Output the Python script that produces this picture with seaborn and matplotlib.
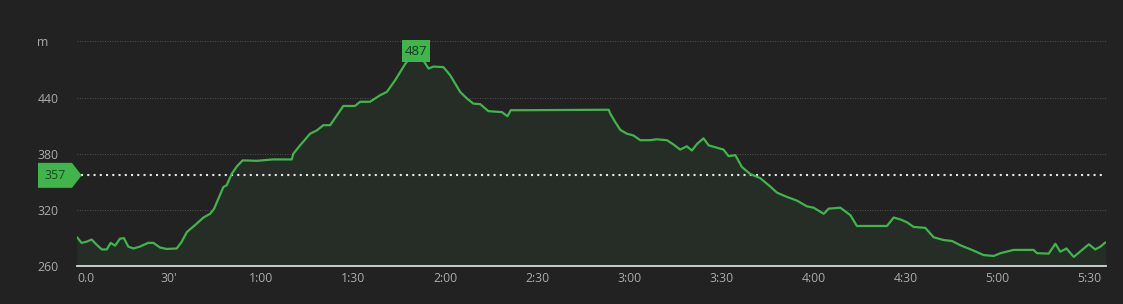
import numpy as np
import pandas as pd
import matplotlib
matplotlib.use("Agg")
import matplotlib.pyplot as plt
import matplotlib.transforms as mtransforms
from matplotlib.patches import Polygon, Rectangle
import seaborn as sns

# ---- data (minutes, metres) ----
minutes = [0, 1.5, 2.9, 4.8, 6.4, 8.1, 9.7, 11.0, 12.4, 14.0,
           15.3, 16.7, 18.4, 20.5, 23.2, 24.9, 27.1, 29.2, 32.5, 34.1,
           35.8, 38.5, 41.2, 43.4, 44.7, 46.6, 47.7, 48.8, 50.4, 52.1,
           54.0, 58.6, 64.0, 70.0, 70.5, 72.7, 76.0, 78.2, 80.3, 82.5,
           84.7, 86.8, 90.6, 92.3, 95.5, 98.8, 101.0, 103.7, 107.0, 109.2,
           110.5, 112.2, 113.5, 114.6, 116.2, 119.4, 121.6, 124.9, 127.1, 129.2,
           131.4, 134.1, 138.5, 140.3, 141.4, 145.5, 173.3, 173.8, 175.4, 177.1,
           179.2, 181.4, 183.6, 186.8, 189.0, 192.3, 194.4, 196.6, 198.8, 200.4,
           202.1, 204.2, 205.9, 208.6, 210.7, 212.4, 214.6, 216.7, 219.4, 222.7,
           226.0, 228.2, 231.4, 234.7, 237.9, 240.1, 243.4, 245.0, 248.8, 252.1,
           254.2, 264.0, 266.2, 268.4, 270.5, 272.7, 276.5, 279.2, 282.5, 285.2,
           287.9, 291.7, 295.5, 298.8, 301.0, 305.3, 311.8, 312.9, 316.7, 318.9,
           320.5, 322.5, 324.9, 327.6, 329.8, 331.9, 333.6, 335.2]
elevation = [291, 285, 286, 288.5, 283, 278, 278, 285, 282, 289.5,
             290, 281, 279, 281, 285, 285, 280, 278.5, 279, 286,
             296.5, 304, 312, 316, 321.5, 336, 344.5, 346.5, 358.5, 366.5,
             373, 372.5, 374, 374, 380, 389, 401.5, 405, 410.5, 410.5,
             421, 431, 431, 435.5, 435.5, 442.5, 446, 458.5, 476, 485,
             487, 483, 476.5, 471, 473, 472.5, 464, 446, 439, 433.5,
             433, 425.5, 424.5, 420, 426.5, 426.5, 427, 423, 414, 405.5,
             401.5, 399.5, 394.5, 394.5, 395.5, 394.5, 390, 384.5, 388, 383.5,
             390.5, 396.5, 389, 386.5, 384.5, 377.5, 378.5, 366, 358.5, 354,
             345, 338.5, 334, 330, 324, 322.5, 316, 321.5, 322.5, 314.5,
             303, 303, 312, 310, 307, 302, 301, 291, 288, 287,
             282.5, 277.5, 272, 271, 274, 277.5, 277.5, 274, 273.5, 284,
             275.5, 279, 270, 277.5, 283.5, 278, 281, 285.5]
average_elevation = 357
x_ticks = [0, 30, 60, 90, 120, 150, 180, 210, 240, 270, 300, 330]
x_tick_labels = ["0.0", "30'", "1:00", "1:30", "2:00", "2:30", "3:00",
                 "3:30", "4:00", "4:30", "5:00", "5:30"]
y_ticks = [260, 320, 380, 440, 500]
y_tick_labels = ["260", "320", "380", "440", "m"]

df = pd.DataFrame({"minutes": minutes, "elevation": elevation})

BG = "#222222"
GREEN = "#3fb54b"
FILL = "#262d27"
TXT = "#ababab"

sns.set_theme(style="dark")
plt.rcParams["font.family"] = ["Open Sans", "DejaVu Sans"]

fig = plt.figure(figsize=(11.23, 3.04), dpi=100, facecolor=BG)
ax = fig.add_axes([77 / 1123, (304 - 266.3) / 304, (1106 - 77) / 1123, (266.3 - 41.3) / 304])
ax.set_facecolor(BG)

ax.fill_between(df["minutes"], df["elevation"], 260, color=FILL, lw=0, zorder=1)
sns.lineplot(data=df, x="minutes", y="elevation", ax=ax, color=GREEN,
             linewidth=1.6, zorder=3)

ax.set_xlim(0, 335.4)
ax.set_ylim(260, 500)
ax.set_xlabel("")
ax.set_ylabel("")

# grid
ax.grid(False)
for yv in y_ticks[1:]:
    ax.axhline(yv, color="#636363", lw=0.6, ls=(0, (1, 2)), zorder=0.5)

for s in ["top", "right", "left"]:
    ax.spines[s].set_visible(False)
ax.spines["bottom"].set_color("#d3dada")
ax.spines["bottom"].set_linewidth(1.3)
ax.spines["bottom"].set_zorder(4)

ax.set_xticks(x_ticks)
ax.set_xticklabels(x_tick_labels)
ax.set_yticks(y_ticks)
ax.set_yticklabels(y_tick_labels)
ax.tick_params(axis="both", length=0, colors=TXT, labelsize=8.8)
ax.tick_params(axis="x", pad=4)
ax.tick_params(axis="y", pad=28.5)
for lab in ax.get_yticklabels():
    lab.set_horizontalalignment("left")
xl = ax.get_xticklabels()
xl[0].set_horizontalalignment("left")

# average line
ax.axhline(average_elevation, xmin=4 / 1029, color="#e6e6e6", lw=1.5,
           ls=(0, (1, 2)), zorder=2)

# average label (pentagon)
blend = mtransforms.blended_transform_factory(ax.transAxes, ax.transData)
tr = fig.dpi_scale_trans + mtransforms.ScaledTranslation(0, average_elevation, blend)
verts = [(-0.39, -0.125), (-0.05, -0.125), (0.047, 0.0), (-0.05, 0.125), (-0.39, 0.125)]
poly = Polygon(verts, closed=True, transform=tr, facecolor=GREEN, edgecolor="none",
               clip_on=False, zorder=5)
ax.add_patch(poly)
ax.text(-0.22, -0.005, str(average_elevation), transform=tr, ha="center", va="center",
        fontsize=9, color="#1d4a23", zorder=6, clip_on=False)

# peak label
imax = int(np.argmax(elevation))
trp = fig.dpi_scale_trans + mtransforms.ScaledTranslation(minutes[imax], elevation[imax], ax.transData)
ax.add_patch(Rectangle((-0.143, -0.09), 0.286, 0.22, transform=trp, facecolor=GREEN,
                       edgecolor="none", clip_on=False, zorder=5))
ax.text(0, 0.02, str(int(elevation[imax])), transform=trp, ha="center", va="center",
        fontsize=9.5, color="#1a3a1d", zorder=6, clip_on=False)

fig.savefig("out.png", dpi=100, facecolor=BG)
